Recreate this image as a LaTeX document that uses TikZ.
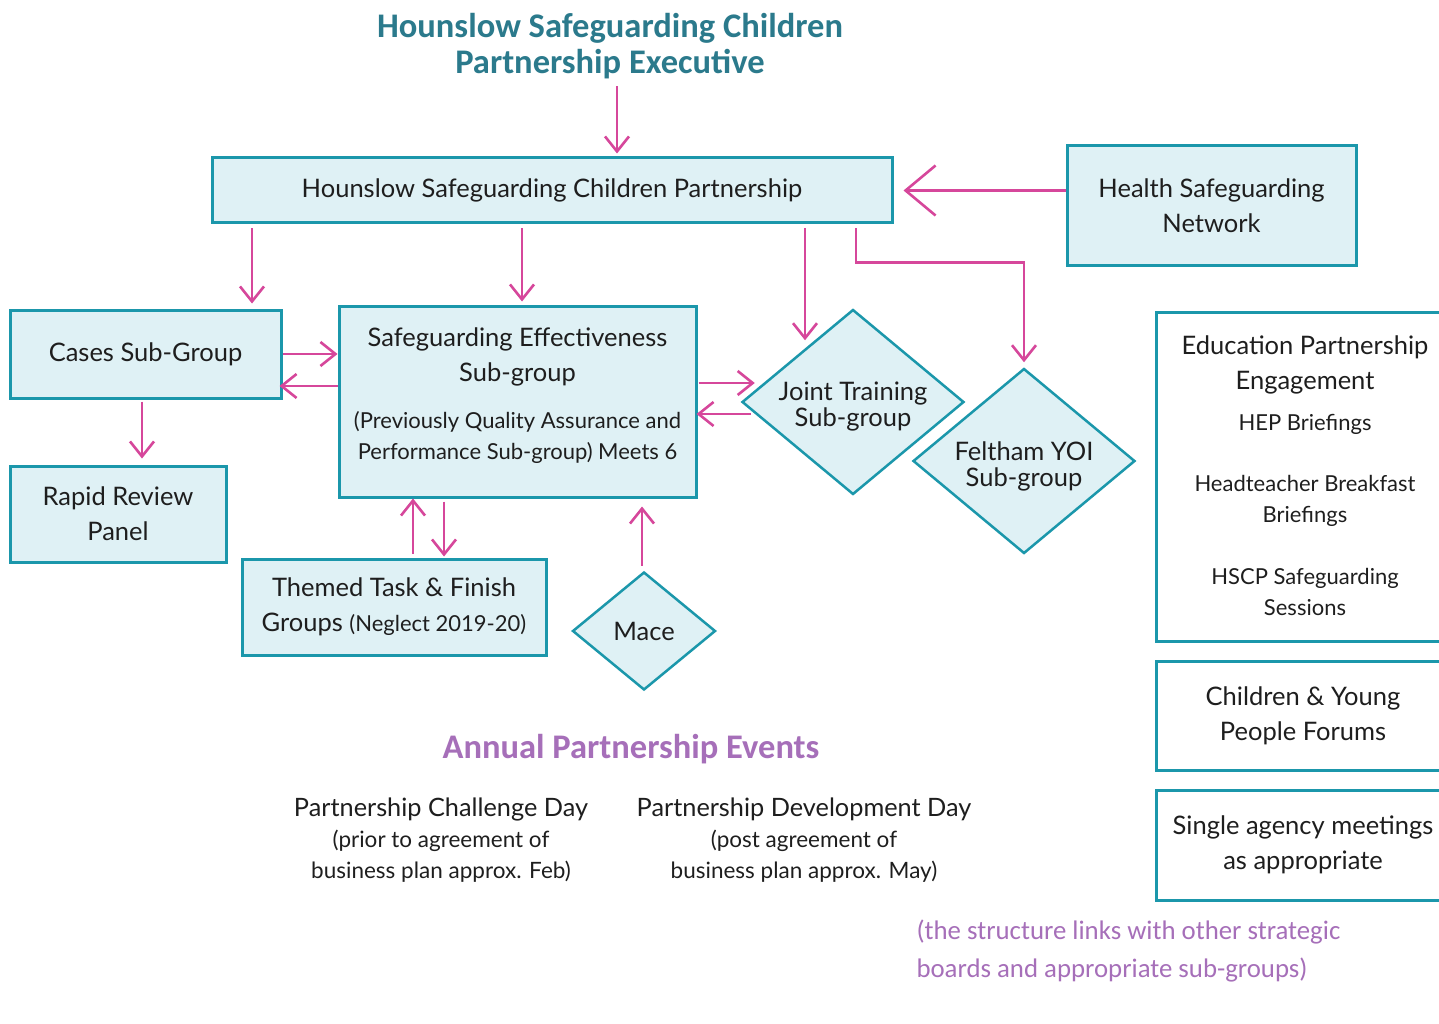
\documentclass[tikz,border=0pt]{standalone}
\usepackage{fontspec}
\setmainfont{Lato}
\newfontfamily\headfont{Carlito}
\usetikzlibrary{shapes.geometric, arrows.meta, positioning, calc}

\definecolor{boxline}{HTML}{1B97AB}
\definecolor{boxfill}{HTML}{DFF1F5}
\definecolor{linkpink}{HTML}{D6479B}
\definecolor{headteal}{HTML}{2B7A8C}
\definecolor{eventpurple}{HTML}{A66FB9}
\definecolor{ink}{HTML}{1E1E1E}

\begin{document}
\begin{tikzpicture}[
    x=1pt, y=-1pt,
    every node/.style={text=ink},
    block/.style={draw=boxline, line width=3pt, fill=boxfill, rectangle, align=center, inner sep=0pt},
    panel/.style={draw=boxline, line width=3pt, rectangle, align=center, inner sep=0pt},
    choice/.style={draw=boxline, line width=2.5pt, fill=boxfill, diamond, inner sep=0pt},
    link/.style={draw=linkpink, line width=2.6pt, -{Straight Barb[length=15pt, width=24pt]}},
    biglink/.style={draw=linkpink, line width=2.6pt, -{Straight Barb[length=30pt, width=50pt]}},
    bodytext/.style={font=\fontsize{25.5}{35}\selectfont},
    subtext/.style={font=\fontsize{22}{31}\selectfont},
    eventtext/.style={font=\fontsize{25.3}{31}\selectfont, align=center}
]
\clip (0,0) rectangle (1439,1024);
\fill[white] (0,0) rectangle (1439,1024);

% Heading
\node (exec) at (610,46) [font=\headfont\bfseries\fontsize{34.5}{36}\selectfont, text=headteal, align=center]
    {Hounslow Safeguarding Children\\Partnership Executive};

% Boxes
\node (hscp) at (552,190.5) [block, bodytext, minimum width=680, minimum height=65] {Hounslow Safeguarding Children Partnership};
\node (health) at (1211.5,205.5) [block, bodytext, minimum width=289, minimum height=119] {Health Safeguarding\\Network};
\node (cases) at (145.5,354) [block, bodytext, minimum width=271, minimum height=88] {Cases Sub-Group};
\node (se) at (517.5,401.5) [block, minimum width=357, minimum height=191] {};
\node (setitle) at (517.5,356.5) [bodytext, align=center] {Safeguarding Effectiveness\\Sub-group};
\node (senote) at (517.5,437) [subtext, align=center] {(Previously Quality Assurance and\\Performance Sub-group) Meets 6};
\node (rapid) at (118,514) [block, bodytext, minimum width=216, minimum height=96] {Rapid Review\\Panel};
\node (themed) at (394,607) [block, bodytext, minimum width=304, minimum height=96]
    {Themed Task \& Finish\\Groups {\fontsize{22}{35}\selectfont(Neglect 2019-20)}};

% Diamonds
\node (joint) at (853,402) [choice, minimum width=222, minimum height=185,
    label={[align=center, font=\fontsize{25.5}{26}\selectfont, yshift=-5pt]center:Joint Training\\Sub-group}] {};
\node (feltham) at (1024,461) [choice, minimum width=222, minimum height=185,
    label={[align=center, font=\fontsize{25.5}{26}\selectfont, yshift=-5pt]center:Feltham YOI\\Sub-group}] {};
\node (mace) at (644,631) [choice, minimum width=143, minimum height=118,
    label={[bodytext]center:Mace}] {};

% Right hand panels
\node (edu) at (1303,476.5) [panel, minimum width=294, minimum height=329] {};
\node (edutitle) at (1305,364.5) [bodytext, align=center] {Education Partnership\\Engagement};
\node (hep) at (1305,424) [subtext] {HEP Briefings};
\node (breakfast) at (1305,500.5) [subtext, align=center] {Headteacher Breakfast\\Briefings};
\node (sessions) at (1305,592) [subtext, align=center] {HSCP Safeguarding\\Sessions};
\node (cyp) at (1303,715.5) [panel, bodytext, minimum width=294, minimum height=109] {Children \& Young\\People Forums};
\node (single) at (1303,845) [panel, bodytext, minimum width=294, minimum height=110] {Single agency meetings\\as appropriate};

% Events
\node (annual) at (631,749) [font=\headfont\bfseries\fontsize{34.5}{36}\selectfont, text=eventpurple] {Annual Partnership Events};
\node (challenge) at (441,840) [eventtext]
    {Partnership Challenge Day\\{\fontsize{22.5}{31}\selectfont(prior to agreement of}\\{\fontsize{22.5}{31}\selectfont business plan approx. Feb)}};
\node (devday) at (804,840) [eventtext]
    {Partnership Development Day\\{\fontsize{22.5}{31}\selectfont(post agreement of}\\{\fontsize{22.5}{31}\selectfont business plan approx. May)}};
\node (note) at (913,951) [anchor=west, font=\headfont\fontsize{26.8}{38}\selectfont, text=eventpurple, align=left]
    {(the structure links with other strategic\\boards and appropriate sub-groups)};

% Links
\draw[link] ($(exec.south)+(7,4)$) -- ($(hscp.north)+(65,-3)$);
\draw[biglink] (health.west |- hscp.east) -- ($(hscp.east)+(10,0)$);
\draw[link] ($(hscp.south)+(-300,4)$) -- ($(cases.north)+(106.5,-5)$);
\draw[link] ($(hscp.south)+(-30,4)$) -- ($(se.north)+(4.5,-3)$);
\draw[link] ($(hscp.south)+(253,4)$) -- ($(joint.north)+(-48,32)$);
\draw[link] ($(hscp.south)+(304,4)$) -- ++(0,34) -| ($(feltham.north)+(0,-5)$);
\draw[link] (cases.east) -- (se.west |- cases.east);
\draw[link] ($(se.west)+(0,-15.5)$) -- ($(cases.east)+(-3,32)$);
\draw[link] ($(se.east)+(1,-18.5)$) -- ($(joint.west)+(14,-19)$);
\draw[link] ($(joint.west)+(10,12)$) -- ($(se.east)+(-1,12.5)$);
\draw[link] ($(cases.south)+(-3.5,2)$) -- ($(rapid.north)+(24,-6)$);
\draw[link] ($(themed.north)+(19,-4)$) -- ($(se.south)+(-104.5,0)$);
\draw[link] ($(se.south)+(-73.5,3)$) -- ($(themed.north)+(50,-1)$);
\draw[link] ($(mace.north)+(-2,-5)$) -- ($(se.south)+(124.5,8)$);

\end{tikzpicture}
\end{document}
